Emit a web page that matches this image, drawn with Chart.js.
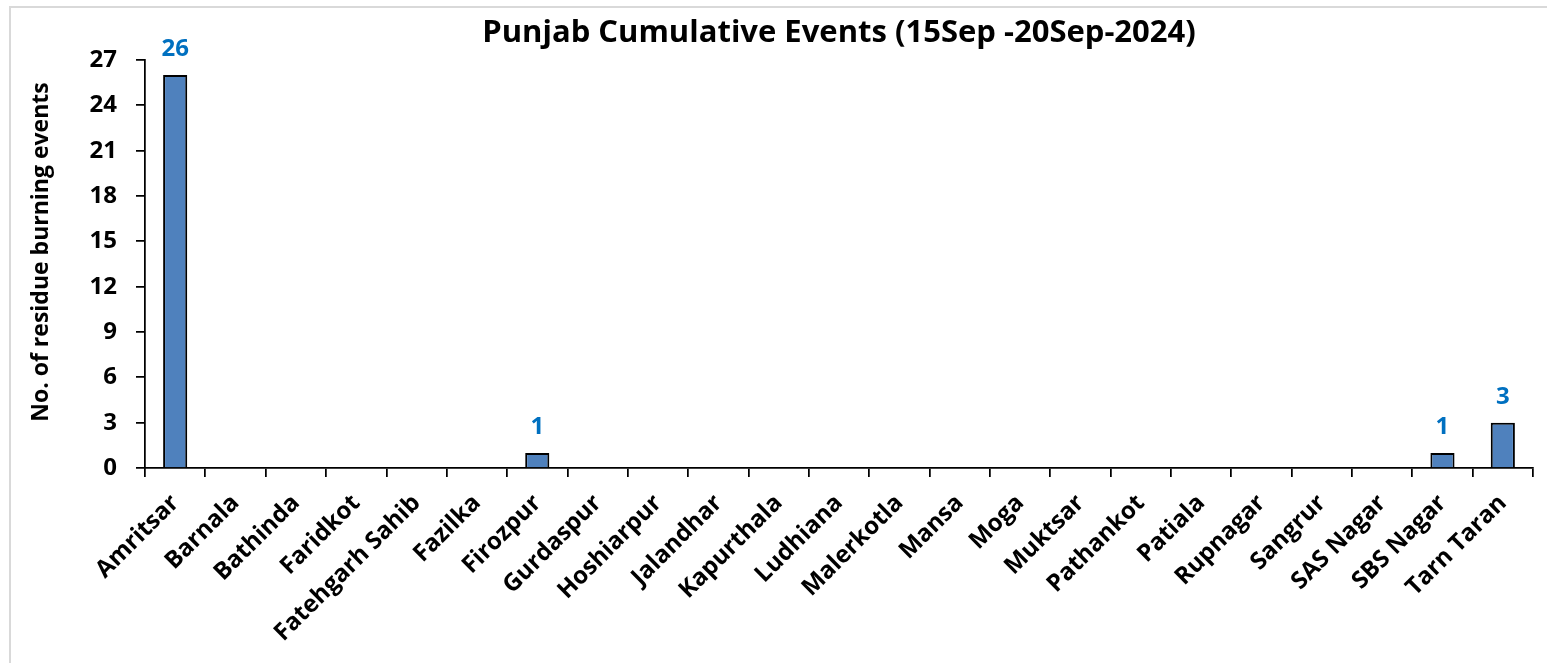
<!DOCTYPE html>
<html>
<head>
<meta charset="utf-8">
<script src="https://cdn.jsdelivr.net/npm/chart.js@4"></script>
<style>
  html, body { margin: 0; padding: 0; background: #fff; }
  #wrap { position: relative; width: 1547px; height: 663px; }
  #frame { position: absolute; left: 9px; top: 6px; width: 1540px; height: 660px; border: 2px solid #d9d9d9; box-sizing: border-box; }
  canvas { position: absolute; left: 0; top: 0; }
</style>
</head>
<body>
<div id="wrap">
  <div id="frame"></div>
  <canvas id="myChart" width="1547" height="663"></canvas>
</div>
<script>
// districts and counts
const districts = ['Amritsar', 'Barnala', 'Bathinda', 'Faridkot', 'Fatehgarh Sahib', 'Fazilka', 'Firozpur',
  'Gurdaspur', 'Hoshiarpur', 'Jalandhar', 'Kapurthala', 'Ludhiana', 'Malerkotla', 'Mansa', 'Moga', 'Muktsar',
  'Pathankot', 'Patiala', 'Rupnagar', 'Sangrur', 'SAS Nagar', 'SBS Nagar', 'Tarn Taran'];
const events = [26, 0, 0, 0, 0, 0, 1, 0, 0, 0, 0, 0, 0, 0, 0, 0, 0, 0, 0, 0, 0, 1, 3];
const yTicks = [0, 3, 6, 9, 12, 15, 18, 21, 24, 27];
const chartTitle = 'Punjab Cumulative Events (15Sep -20Sep-2024)';
const yTitle = 'No. of residue burning events';

const fontFam = '"Open Sans", "Noto Sans", sans-serif';

// tiêu đề (canh giữa vùng vẽ như Excel), số trên cột, tiêu đề trục y
const labelsPlugin = {
  id: 'labelsPlugin',
  afterDatasetsDraw(chart) {
    const ctx = chart.ctx;
    const area = chart.chartArea;
    const meta = chart.getDatasetMeta(0);

    ctx.save();
    ctx.fillStyle = '#000';
    ctx.font = 'bold 31px ' + fontFam;
    ctx.textAlign = 'center';
    ctx.textBaseline = 'middle';
    ctx.fillText(chartTitle, (area.left + area.right) / 2, 33);
    ctx.restore();

    ctx.save();
    ctx.fillStyle = '#0070C0';
    ctx.font = 'bold 24px ' + fontFam;
    ctx.textAlign = 'center';
    ctx.textBaseline = 'alphabetic';
    meta.data.forEach((bar, i) => {
      if (events[i] > 0) ctx.fillText(String(events[i]), bar.x, bar.y - 19);
    });
    ctx.restore();

    ctx.save();
    ctx.translate(41, (area.top + area.bottom) / 2 - 12);
    ctx.rotate(-Math.PI / 2);
    ctx.fillStyle = '#000';
    ctx.font = 'bold 23px ' + fontFam;
    ctx.textAlign = 'center';
    ctx.textBaseline = 'middle';
    ctx.fillText(yTitle, 0, 0);
    ctx.restore();
  }
};

const ctx = document.getElementById('myChart').getContext('2d');
const myChart = new Chart(ctx, {
  type: 'bar',
  data: {
    labels: districts,
    datasets: [{
      data: events,
      backgroundColor: '#4F81BD',
      borderColor: '#000',
      borderWidth: 2,
      borderSkipped: 'bottom',
      barPercentage: 0.4,
      categoryPercentage: 1
    }]
  },
  options: {
    responsive: false,
    animation: false,
    layout: { padding: { left: 12, right: 14, top: 60, bottom: 0 } },
    plugins: {
      legend: { display: false },
      tooltip: { enabled: false },
      title: { display: false }
    },
    scales: {
      y: {
        min: 0,
        max: 27,
        afterBuildTicks(scale) { scale.ticks = yTicks.map(v => ({ value: v })); },
        afterFit(scale) { scale.width = 133; },
        ticks: { color: '#000', font: { family: fontFam, size: 24, weight: 'bold' }, padding: 19 },
        grid: { drawOnChartArea: false, drawTicks: true, tickLength: 9, color: '#000', lineWidth: 1.75 },
        border: { color: '#000', width: 1.75 }
      },
      x: {
        afterFit(scale) { scale.height = 195; },
        ticks: {
          color: '#000',
          font: { family: fontFam, size: 24, weight: 'bold' },
          minRotation: 45,
          maxRotation: 45,
          autoSkip: false,
          padding: 12
        },
        grid: { offset: true, drawOnChartArea: false, drawTicks: true, tickLength: 9, color: '#000', lineWidth: 1.75 },
        border: { color: '#000', width: 1.75 }
      }
    }
  },
  plugins: [labelsPlugin]
});
</script>
</body>
</html>
